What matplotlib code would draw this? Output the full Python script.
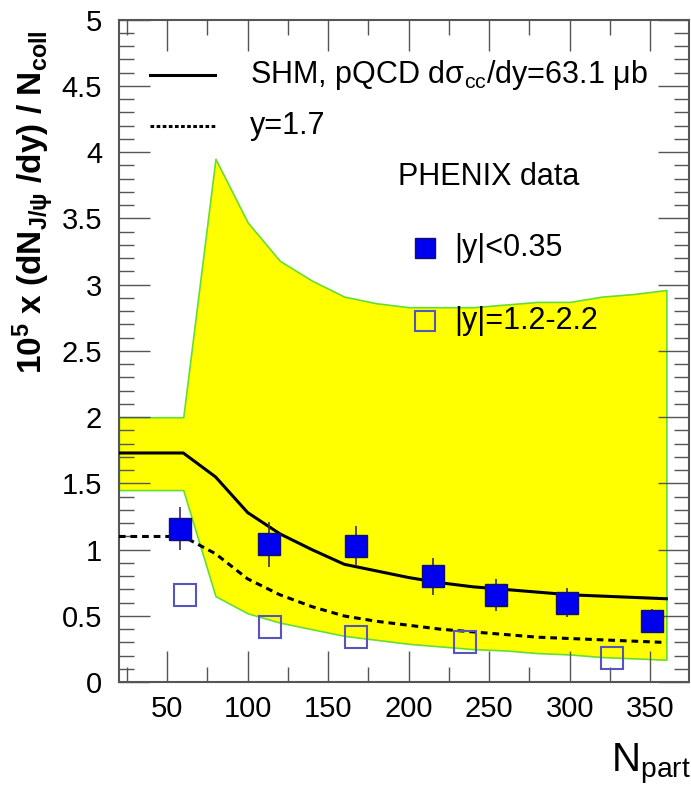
import matplotlib
matplotlib.use("Agg")
import matplotlib.pyplot as plt
from matplotlib.ticker import MultipleLocator

plt.rcParams['font.family'] = ['Liberation Sans', 'DejaVu Sans']
plt.rcParams['mathtext.fontset'] = 'custom'
plt.rcParams['mathtext.rm'] = 'Liberation Sans'
plt.rcParams['mathtext.it'] = 'Liberation Sans:italic'
plt.rcParams['mathtext.bf'] = 'Liberation Sans:bold'

# SHM band (upper/lower) and central curves vs N_part
npart_model = [20, 60, 80, 100, 120, 140, 160, 180, 200, 220, 240, 260, 280, 300, 320, 340, 360]
band_hi = [2.00, 2.00, 3.95, 3.47, 3.18, 3.03, 2.91, 2.86, 2.83, 2.83, 2.83, 2.85, 2.87, 2.87, 2.91, 2.93, 2.96]
band_lo = [1.45, 1.45, 0.65, 0.52, 0.45, 0.40, 0.35, 0.32, 0.29, 0.27, 0.25, 0.24, 0.22, 0.21, 0.19, 0.18, 0.17]
shm_mid = [1.73, 1.73, 1.55, 1.28, 1.12, 1.00, 0.89, 0.84, 0.79, 0.75, 0.72, 0.70, 0.68, 0.66, 0.65, 0.64, 0.63]
shm_fwd = [1.10, 1.10, 0.97, 0.78, 0.66, 0.57, 0.50, 0.46, 0.43, 0.40, 0.38, 0.36, 0.34, 0.33, 0.32, 0.31, 0.30]

# PHENIX midrapidity
npart_mid = [58, 113, 167, 215, 254, 298, 351]
yield_mid = [1.16, 1.04, 1.03, 0.80, 0.66, 0.60, 0.46]
err_mid = [0.16, 0.17, 0.15, 0.14, 0.12, 0.11, 0.09]

# PHENIX forward rapidity
npart_fwd = [61, 114, 167, 235, 326]
yield_fwd = [0.66, 0.42, 0.34, 0.30, 0.18]

line_labels = [r"SHM, pQCD d$\mathregular{\sigma_{cc}}$/dy=63.1 $\mathregular{\mu}$b", "y=1.7"]
data_title = "PHENIX data"
data_labels = ["|y|<0.35", "|y|=1.2-2.2"]

fig = plt.figure(figsize=(6.91, 7.86), dpi=100)
ax = fig.add_axes([0.172, 0.132, 0.825, 0.843])

ax.fill_between(npart_model, band_lo, band_hi, facecolor='#ffff00', edgecolor='#66dd33', linewidth=1.2, zorder=1)
ax.plot(npart_model, shm_mid, color='black', lw=2.2, zorder=3)
ax.plot(npart_model, shm_fwd, color='black', lw=2.2, ls=(0, (2.2, 1.6)), zorder=3)

ax.errorbar(npart_mid, yield_mid, yerr=err_mid, fmt='s', ms=16, mfc='#0000ee', mec='#101070',
            mew=1.0, ecolor='#303060', elinewidth=1.2, capsize=0, zorder=5)
ax.plot(npart_fwd, yield_fwd, 's', ms=16, mfc='none', mec='#5555bb', mew=1.5, zorder=5)

ax.set_xlim(20, 374)
ax.set_ylim(0, 5)
ax.xaxis.set_major_locator(MultipleLocator(50))
ax.xaxis.set_minor_locator(MultipleLocator(25))
ax.yaxis.set_major_locator(MultipleLocator(0.5))
ax.yaxis.set_minor_locator(MultipleLocator(0.1))
ax.tick_params(which='both', direction='in', top=True, right=True, color='#555555', labelsize=21, width=1.0)
ax.tick_params(which='major', length=22)
ax.tick_params(which='minor', length=11)
ax.tick_params(axis='x', pad=9)
ax.tick_params(axis='y', pad=12)
ax.set_yticks([0, 0.5, 1, 1.5, 2, 2.5, 3, 3.5, 4, 4.5, 5])
ax.set_yticklabels(['0', '0.5', '1', '1.5', '2', '2.5', '3', '3.5', '4', '4.5', '5'])
for s in ax.spines.values():
    s.set_color('#555555')
    s.set_linewidth(1.5)

ax.set_ylabel(r"$\mathbf{10^5}$ $\mathbf{x}$ $\mathbf{(dN_{J/\psi}\ /dy)\ /\ N_{coll}}$",
              fontsize=24)
ax.yaxis.set_label_coords(-0.11, 0.725)
fig.text(0.999, 0.0, r"N$_\mathregular{part}$", fontsize=29, ha='right', va='bottom')

# legend: model curves
ax.plot([0.054, 0.168], [0.917, 0.917], transform=ax.transAxes, color='black', lw=2.2)
ax.plot([0.054, 0.168], [0.839, 0.839], transform=ax.transAxes, color='black', lw=2.2, ls=(0, (1.2, 0.8)))
ax.text(0.23, 0.917, line_labels[0], transform=ax.transAxes, fontsize=22, va='center')
ax.text(0.23, 0.839, line_labels[1], transform=ax.transAxes, fontsize=22, va='center')

# legend: data
ax.text(0.49, 0.762, data_title, transform=ax.transAxes, fontsize=22, va='center')
ax.plot([0.537], [0.656], 's', transform=ax.transAxes, ms=14, mfc='#0000ee', mec='#101070', mew=1.0)
ax.plot([0.537], [0.545], 's', transform=ax.transAxes, ms=14, mfc='none', mec='#5555bb', mew=1.5)
ax.text(0.589, 0.656, data_labels[0], transform=ax.transAxes, fontsize=22, va='center')
ax.text(0.589, 0.545, data_labels[1], transform=ax.transAxes, fontsize=22, va='center')

fig.savefig("out.png", dpi=100)
